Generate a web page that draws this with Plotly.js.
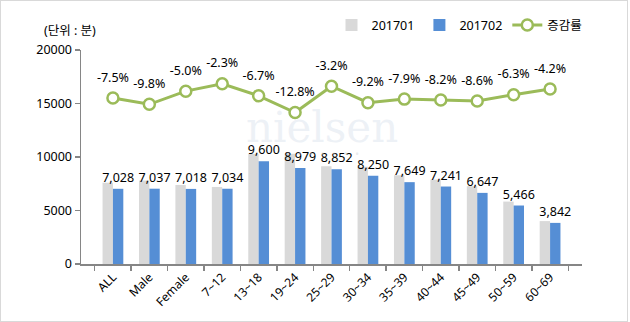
<!DOCTYPE html>
<html>
<head>
<meta charset="utf-8">
<script src="https://cdn.plot.ly/plotly-3.0.1.min.js"></script>
<style>
  html, body { margin: 0; padding: 0; background: #ffffff; }
  #wrap { position: relative; width: 630px; height: 322px; }
  #chart { width: 630px; height: 322px; }
  #frame { position: absolute; left: 0; top: 0; width: 626px; height: 320px;
           border: 1px solid #d9d9d9; pointer-events: none; }
</style>
</head>
<body>
<div id="wrap">
  <div id="chart"></div>
  <div id="frame"></div>
</div>
<script>
// ---- data ----
const categories = ['ALL', 'Male', 'Female', '7~12', '13~18', '19~24', '25~29',
                    '30~34', '35~39', '40~44', '45~49', '50~59', '60~69'];
const series201701 = [7598, 7801, 7387, 7200, 10289, 10297, 9145, 9086, 8305, 7888, 7272, 5834, 4010];
const series201702 = [7028, 7037, 7018, 7034, 9600, 8979, 8852, 8250, 7649, 7241, 6647, 5466, 3842];
const changeRate = [-7.5, -9.8, -5.0, -2.3, -6.7, -12.8, -3.2, -9.2, -7.9, -8.2, -8.6, -6.3, -4.2];
const seriesNames = ['201701', '201702', '증감률'];
const unitLabel = '(단위 : 분)';
const yTicks = [0, 5000, 10000, 15000, 20000];

const FONT = 'Noto Sans, Noto Sans CJK KR, sans-serif';
const AXIS = '#868686';
const RATE_RANGE = [-68, 10];
const LABEL_LIFT = 4.8; // shifts the label axis so rate labels sit above the markers

const traces = [
  {
    type: 'bar', name: seriesNames[0], x: categories, y: series201701,
    marker: { color: '#d9d9d9' }, hoverinfo: 'skip'
  },
  {
    type: 'bar', name: seriesNames[1], x: categories, y: series201702,
    marker: { color: '#558ed5' },
    text: series201702.map(v => v.toLocaleString('en-US')),
    textposition: 'outside', cliponaxis: false, constraintext: 'none',
    textfont: { family: FONT, size: 12.5, color: '#000000' },
    hoverinfo: 'skip'
  },
  {
    type: 'scatter', name: seriesNames[2], x: categories, y: changeRate, yaxis: 'y2',
    mode: 'lines+markers',
    line: { color: '#9bbb59', width: 3 },
    marker: { size: 11, color: '#ffffff', line: { color: '#9bbb59', width: 2.5 } },
    cliponaxis: false, hoverinfo: 'skip'
  },
  {
    type: 'scatter', name: 'rate labels', x: categories, y: changeRate, yaxis: 'y3',
    mode: 'text', showlegend: false,
    text: changeRate.map(v => v.toFixed(1) + '%'),
    textposition: 'top center', cliponaxis: false,
    textfont: { family: FONT, size: 12.5, color: '#000000' },
    hoverinfo: 'skip'
  }
];

const layout = {
  width: 630, height: 322,
  margin: { l: 81, r: 48, t: 50, b: 58, autoexpand: false },
  paper_bgcolor: 'rgba(0,0,0,0)', plot_bgcolor: 'rgba(0,0,0,0)',
  font: { family: FONT, size: 12, color: '#000000' },
  barmode: 'group', bargap: 0.43, bargroupgap: 0,
  showlegend: true,
  legend: {
    orientation: 'h', x: 0.5, y: 1.185, xanchor: 'left', yanchor: 'top',
    font: { family: FONT, size: 12.5, color: '#000000' },
    itemwidth: 30, traceorder: 'normal', bgcolor: 'rgba(0,0,0,0)'
  },
  xaxis: {
    type: 'category', showline: true, linecolor: AXIS, linewidth: 1.5,
    ticks: 'outside', tickson: 'boundaries', ticklen: 5, tickcolor: AXIS, tickwidth: 1.5,
    tickangle: -45, showgrid: false, zeroline: false, automargin: false,
    tickfont: { family: FONT, size: 12, color: '#000000' }
  },
  yaxis: {
    range: [0, 20000], tickvals: yTicks, ticktext: yTicks.map(String),
    showline: true, linecolor: AXIS, linewidth: 1.5,
    ticks: 'outside', ticklen: 5, tickcolor: AXIS, tickwidth: 1.5,
    showgrid: false, zeroline: false, automargin: false,
    tickfont: { family: FONT, size: 12.5, color: '#000000' }
  },
  yaxis2: {
    overlaying: 'y', side: 'right', range: RATE_RANGE, visible: false,
    showgrid: false, zeroline: false
  },
  yaxis3: {
    overlaying: 'y', side: 'right', range: [RATE_RANGE[0] - LABEL_LIFT, RATE_RANGE[1] - LABEL_LIFT],
    visible: false, showgrid: false, zeroline: false
  },
  annotations: [
    {
      text: unitLabel, xref: 'paper', yref: 'paper', x: -0.022, y: 1.09,
      xanchor: 'center', yanchor: 'middle', showarrow: false,
      font: { family: FONT, size: 12.5, color: '#000000' }
    },
    {
      text: 'nielsen', xref: 'paper', yref: 'paper', x: 0.482, y: 0.64,
      xanchor: 'center', yanchor: 'middle', showarrow: false,
      font: { family: 'DejaVu Serif, Liberation Serif, serif', size: 42, color: 'rgba(205,215,230,0.35)' }
    },
    {
      text: '•   •   •   •   •   •   •', xref: 'paper', yref: 'paper', x: 0.482, y: 0.515,
      xanchor: 'center', yanchor: 'middle', showarrow: false,
      font: { family: FONT, size: 10, color: 'rgba(200,205,212,0.4)' }
    }
  ]
};

Plotly.newPlot('chart', traces, layout, { staticPlot: true, displayModeBar: false });
</script>
</body>
</html>
